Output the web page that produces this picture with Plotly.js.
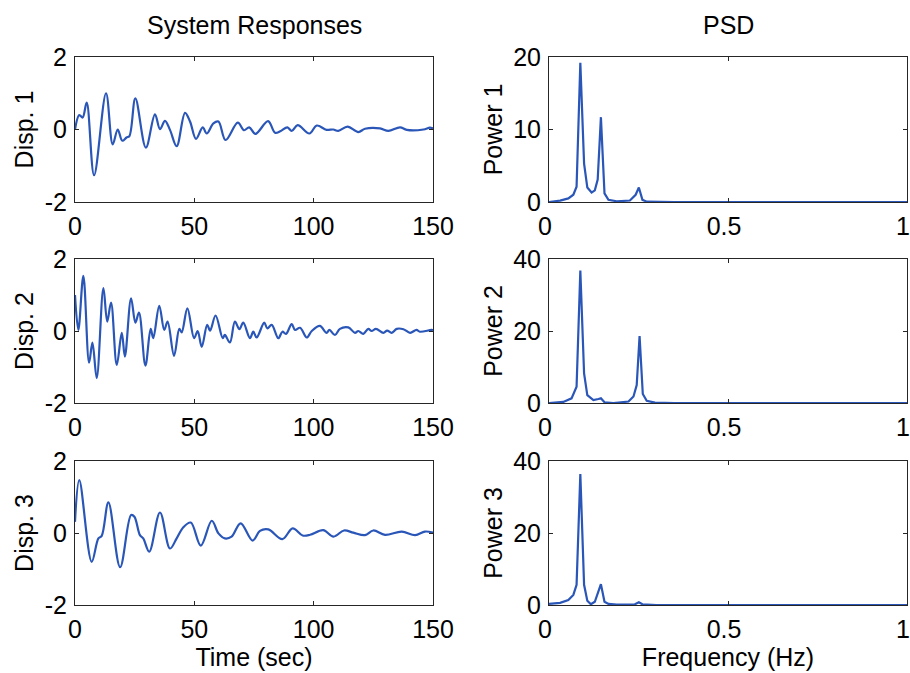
<!DOCTYPE html>
<html>
<head>
<meta charset="utf-8">
<script src="https://cdn.plot.ly/plotly-3.0.1.min.js"></script>
<style>html,body{margin:0;padding:0;background:#fff;}#chart{width:910px;height:673px;}</style>
</head>
<body>
<div id="chart"></div>
<script>
// ---- Data ----
const disp1_t = [0,1.8,3.2,4.9,8.0,13.0,15.8,17.9,19.8,21.6,22.8,25.3,29.7,33.5,35.6,37.7,39.8,42.6,46.1,48.2,50.7,53.5,55.2,58.0,60.1,63.1,68.2,70.8,73.0,75.6,80.9,83.8,86.0,89.0,90.8,93.3,98.2,101.3,105.4,108.2,110.3,114.2,118.7,121.5,127.8,131.3,136.2,139.0,146.0,148.7,150];
const disp1_v = [0,0.4,0.33,0.74,-1.26,1.0,-0.41,0.0,-0.31,-0.22,-0.18,0.86,-0.5,0.42,0.01,0.24,-0.01,-0.46,0.46,0.22,-0.26,0.06,-0.11,0.17,0.22,-0.29,0.19,-0.02,0.06,-0.12,0.23,-0.09,-0.05,0.06,-0.04,0.12,-0.11,0.11,-0.01,0.0,-0.04,0.08,-0.07,0.02,0.03,-0.04,0.06,-0.01,0.0,0.05,0.03];

const disp2_t = [0,1.4,3.5,5.9,7.3,9.1,11.9,13.5,15.1,17.5,19.6,20.9,23.5,25.3,26.8,29.5,31.7,32.8,35.3,37.4,38.8,41.5,43.7,44.7,47.1,49.9,51.4,53.1,55.4,56.6,58.9,61.9,62.8,64.9,67.0,68.9,70.5,73.3,74.7,76.1,79.3,80.6,82.4,85.2,86.9,88.4,90.8,92.2,94.3,97.1,99.2,102.6,105.4,106.6,108.9,111.0,114.5,117.3,118.7,120.8,122.9,124.3,126.1,129.2,130.8,132.7,134.8,137.6,140.4,143.1,144.5,149.4,150];
const disp2_v = [1.0,0.03,1.53,-0.88,-0.32,-1.31,1.19,0.26,0.79,-0.94,-0.05,-0.71,0.91,0.23,0.51,-0.96,0.06,-0.2,0.70,0.03,0.26,-0.69,0.06,-0.04,0.63,-0.2,0.0,-0.44,0.17,0.01,0.43,-0.2,-0.11,-0.32,0.26,0.05,0.23,-0.2,-0.02,-0.18,0.23,0.07,0.17,-0.2,-0.02,-0.08,0.19,0.03,0.09,-0.18,0.0,0.14,-0.05,0.03,-0.11,0.06,0.1,-0.05,0.0,-0.08,0.06,0.0,0.06,-0.05,0.01,-0.05,0.06,0.05,-0.05,0.03,-0.02,0.03,0.02];

const disp3_t = [0,1.8,7.0,9.8,11.2,14.0,18.9,23.5,24.9,27.2,28.6,31.1,35.6,39.8,42.6,45.4,48.5,52.7,57.3,60.1,62.8,65.6,69.4,74.4,77.5,81.0,86.9,91.2,95.4,98.5,104.0,108.3,112.7,116.6,121.5,125.0,129.9,136.9,142.5,146.6,150];
const disp3_v = [0.31,1.47,-0.8,-0.15,-0.08,0.85,-0.95,0.5,0.45,-0.06,-0.15,-0.52,0.57,-0.43,-0.15,0.16,0.29,-0.35,0.34,-0.01,-0.15,-0.1,0.27,-0.21,0.06,0.1,-0.17,0.13,-0.07,-0.05,0.08,-0.1,0.07,0.01,-0.06,0.07,-0.05,0.04,-0.06,0.04,0.01];

const psd1_f = [0,0.031,0.054,0.068,0.077,0.0875,0.098,0.107,0.119,0.128,0.136,0.145,0.155,0.166,0.189,0.226,0.242,0.251,0.261,0.273,0.35,1.0];
const psd1_p = [0,0.2,0.5,1.0,2.1,19.2,5.3,2.0,1.3,1.6,3.1,11.7,1.2,0.3,0.1,0.2,1.0,2.0,0.3,0.05,0,0];

const psd2_f = [0,0.04,0.063,0.077,0.0875,0.098,0.107,0.124,0.138,0.145,0.155,0.18,0.222,0.236,0.245,0.253,0.262,0.273,0.296,0.35,1.0];
const psd2_p = [0,0.3,1.3,4.5,36.8,8.2,2.2,0.8,1.1,1.3,0.2,0,0.4,1.8,5.0,18.6,2.5,0.6,0.1,0,0];

const psd3_f = [0,0.031,0.054,0.068,0.077,0.0875,0.098,0.107,0.117,0.128,0.145,0.155,0.166,0.189,0.24,0.251,0.261,0.3,1.0];
const psd3_p = [0.3,0.6,1.4,2.8,5.6,36.4,5.6,1.2,0.2,0.9,5.8,0.9,0.3,0.1,0.2,0.75,0.2,0,0];

const dispLabels = ["Disp. 1","Disp. 2","Disp. 3"];
const powerLabels = ["Power 1","Power 2","Power 3"];
const powerRanges = [[0,20],[0,40],[0,40]];
const powerTicks = [[0,10,20],[0,20,40],[0,20,40]];
const timeTicks = [0,50,100,150];
const freqTicks = [0,0.5,1];
const freqTickText = ["0","0.5","1"];
const dispTicks = [-2,0,2];
const colTitles = ["System Responses","PSD"];

// ---- Figure ----
const W = 910, H = 673;
const lineColor = "#2a56b8";
const axColor = "#262626";
const FONT = "Liberation Sans, Arial, sans-serif";
const FS = 25;
const colX = [[75,433],[549,907]];
const rowY = [[57,202],[259,403],[461,605]];
const dispT = [disp1_t,disp2_t,disp3_t];
const dispV = [disp1_v,disp2_v,disp3_v];
const psdF = [psd1_f,psd2_f,psd3_f];
const psdP = [psd1_p,psd2_p,psd3_p];

const traces = [];
const layout = {
  width: W, height: H,
  margin: {l:0,r:0,t:0,b:0},
  paper_bgcolor: "#fff", plot_bgcolor: "#fff",
  showlegend: false,
  font: {family: FONT, size: FS, color: "#000"},
  annotations: []
};

function axBase() {
  return {
    showgrid: false, zeroline: false, showline: true, mirror: "ticks",
    linecolor: axColor, linewidth: 1, ticks: "inside", ticklen: 4,
    tickcolor: axColor, tickwidth: 1, fixedrange: true,
    ticklabeloverflow: "allow",
    tickfont: {family: FONT, size: FS, color: "#000"}
  };
}

for (let r = 0; r < 3; r++) {
  for (let c = 0; c < 2; c++) {
    const idx = r*2 + c + 1;
    const xa = "xaxis" + (idx === 1 ? "" : idx);
    const ya = "yaxis" + (idx === 1 ? "" : idx);
    const xr = "x" + (idx === 1 ? "" : idx);
    const yr = "y" + (idx === 1 ? "" : idx);
    const xd = [colX[c][0]/W, colX[c][1]/W];
    const yd = [1 - rowY[r][1]/H, 1 - rowY[r][0]/H];
    const X = axBase(), Y = axBase();
    X.domain = xd; Y.domain = yd;
    X.anchor = yr; Y.anchor = xr;
    X.ticklabelstandoff = 2;
    Y.ticklabelstandoff = 2;
    if (c === 0) {
      X.range = [0,150]; X.tickvals = timeTicks; X.ticktext = timeTicks.map(String);
      Y.range = [-2,2]; Y.tickvals = dispTicks; Y.ticktext = dispTicks.map(String);
      Y.title = {text: dispLabels[r], font: {family: FONT, size: FS, color:"#000"}, standoff: 4};
      if (r === 2) X.title = {text: "Time (sec)", font: {family: FONT, size: FS, color:"#000"}, standoff: 2};
      traces.push({x: dispT[r], y: dispV[r], xaxis: xr, yaxis: yr, type: "scatter", mode: "lines",
        line: {color: lineColor, width: 2.2, shape: "spline", smoothing: 1}, hoverinfo: "skip"});
    } else {
      X.range = [0,1]; X.tickvals = freqTicks; X.ticktext = freqTickText;
      X.ticklabelshift = -4;
      Y.range = powerRanges[r]; Y.tickvals = powerTicks[r]; Y.ticktext = powerTicks[r].map(String);
      Y.title = {text: powerLabels[r], font: {family: FONT, size: FS, color:"#000"}, standoff: 3};
      if (r === 2) X.title = {text: "Frequency (Hz)", font: {family: FONT, size: FS, color:"#000"}, standoff: 2};
      traces.push({x: psdF[r], y: psdP[r], xaxis: xr, yaxis: yr, type: "scatter", mode: "lines",
        line: {color: lineColor, width: 2.2}, hoverinfo: "skip"});
    }
    layout[xa] = X; layout[ya] = Y;
  }
}

for (let c = 0; c < 2; c++) {
  layout.annotations.push({
    text: colTitles[c], xref: "paper", yref: "paper",
    x: (colX[c][0] + colX[c][1]) / 2 / W, y: 1 - 25/H,
    xanchor: "center", yanchor: "middle", showarrow: false,
    font: {family: FONT, size: FS, color: "#000"}
  });
}

Plotly.newPlot("chart", traces, layout, {displayModeBar: false, staticPlot: true});
</script>
</body>
</html>
